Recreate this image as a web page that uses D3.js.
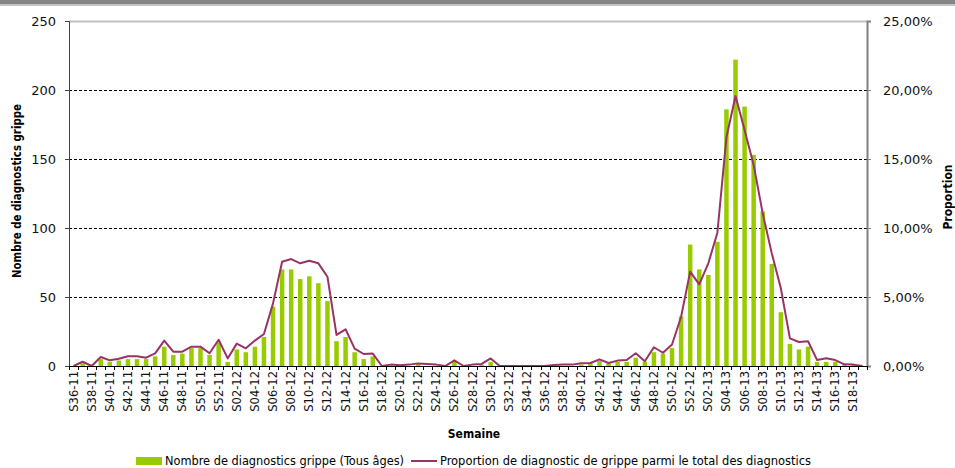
<!DOCTYPE html>
<html>
<head>
<meta charset="utf-8">
<script src="https://cdn.jsdelivr.net/npm/d3@7"></script>
<style>
    body { margin: 0; background: #fff; }
    svg { display: block; font-family: 'DejaVu Sans', sans-serif; }
</style>
</head>
<body>
<div id="chart"></div>
<script>
// semaines S36-11 ... S19-13
var weeks = [
    'S36-11','S37-11','S38-11','S39-11','S40-11','S41-11','S42-11','S43-11','S44-11','S45-11',
    'S46-11','S47-11','S48-11','S49-11','S50-11','S51-11','S52-11',
    'S01-12','S02-12','S03-12','S04-12','S05-12','S06-12','S07-12','S08-12','S09-12','S10-12',
    'S11-12','S12-12','S13-12','S14-12','S15-12','S16-12','S17-12','S18-12','S19-12','S20-12',
    'S21-12','S22-12','S23-12','S24-12','S25-12','S26-12','S27-12','S28-12','S29-12','S30-12',
    'S31-12','S32-12','S33-12','S34-12','S35-12','S36-12','S37-12','S38-12','S39-12','S40-12',
    'S41-12','S42-12','S43-12','S44-12','S45-12','S46-12','S47-12','S48-12','S49-12','S50-12',
    'S51-12','S52-12',
    'S01-13','S02-13','S03-13','S04-13','S05-13','S06-13','S07-13','S08-13','S09-13','S10-13',
    'S11-13','S12-13','S13-13','S14-13','S15-13','S16-13','S17-13','S18-13','S19-13'
]

// nombre de diagnostics grippe (tous ages)
var counts = [
    0, 2, 0, 5, 3, 4, 5, 5, 5, 7,
    14, 8, 9, 13, 13, 8, 17,
    3, 12, 10, 14, 21, 43, 70, 70, 63, 65,
    60, 47, 18, 21, 10, 5, 7, 0, 0, 0,
    0, 2, 0, 0, 0, 3, 0, 0, 1, 3,
    0, 0, 0, 0, 0, 0, 0, 0, 0, 1,
    2, 4, 2, 3, 3, 6, 3, 10, 9, 13,
    36, 88,
    70, 66, 90, 186, 222, 188, 153, 112, 74, 39,
    16, 12, 14, 3, 3, 3, 1, 1, 0
]

// proportion (%) parmi le total des diagnostics
var proportion = [
    0, 0.31, 0, 0.65, 0.41, 0.53, 0.7, 0.7, 0.6, 0.92,
    1.84, 1.04, 1.04, 1.4, 1.4, 0.92, 1.9,
    0.55, 1.62, 1.28, 1.84, 2.32, 4.54, 7.56, 7.75, 7.44, 7.63,
    7.44, 6.47, 2.25, 2.66, 1.26, 0.87, 0.9, 0, 0.1, 0.05,
    0.1, 0.19, 0.15, 0.1, 0, 0.41, 0, 0.1, 0.15, 0.55,
    0, 0, 0, 0, 0, 0, 0.08, 0.1, 0.1, 0.2,
    0.22, 0.48, 0.22, 0.39, 0.43, 0.92, 0.34, 1.36, 0.96, 1.56,
    3.57, 6.84,
    5.92, 7.44, 9.66, 16.57, 19.57, 17.1, 14.57, 11.06, 8.16, 5.63,
    2.0, 1.74, 1.79, 0.43, 0.56, 0.43, 0.12, 0.1, 0
]

var leftTicks = [0, 50, 100, 150, 200, 250]
var rightTicks = [0, 5, 10, 15, 20, 25]

var barLabel = 'Nombre de diagnostics grippe (Tous âges)'
var lineLabel = 'Proportion de diagnostic de grippe parmi le total des diagnostics'

var data = weeks.map(function(w, i) {
    return { week: w, n: counts[i], p: proportion[i] }
})

var W = 955, H = 468
var margin = { top: 21, right: 88, bottom: 102, left: 69 },
    width = W - margin.left - margin.right,
    height = H - margin.top - margin.bottom;

var svg = d3.select('#chart').append('svg')
    .attr('width', W)
    .attr('height', H)

// bandeau gris en haut
svg.append('rect').attr('x', 0).attr('y', 0).attr('width', W).attr('height', 4).attr('fill', '#858585')
svg.append('rect').attr('x', 0).attr('y', 4).attr('width', W).attr('height', 2).attr('fill', '#c4c4c4')

var g = svg.append('g').attr('transform', `translate(${margin.left},${margin.top})`)

var x = d3.scaleBand().domain(weeks).range([0, width]).paddingInner(0).paddingOuter(0)
var y = d3.scaleLinear().domain([0, 250]).range([height, 0])
var y2 = d3.scaleLinear().domain([0, 25]).range([height, 0])

// grille
g.selectAll('.grid')
    .data(leftTicks.filter(d => d > 0 && d < 250))
    .enter()
    .append('line')
    .attr('x1', 0).attr('x2', width)
    .attr('y1', d => Math.round(y(d)) + 0.5).attr('y2', d => Math.round(y(d)) + 0.5)
    .attr('stroke', '#000').attr('stroke-width', 1)
    .attr('stroke-dasharray', '3,2')

g.append('line')
    .attr('x1', 0).attr('x2', width)
    .attr('y1', y(250) + 0.5).attr('y2', y(250) + 0.5)
    .attr('stroke', '#c0c0c0').attr('stroke-width', 2)

// barres
var bw = 4.5
g.selectAll('.bar')
    .data(data)
    .enter()
    .append('rect')
    .attr('class', 'bar')
    .attr('x', d => x(d.week) + x.bandwidth() / 2 - bw / 2)
    .attr('y', d => y(d.n))
    .attr('width', bw)
    .attr('height', d => height - y(d.n))
    .attr('fill', '#99cc00')

// courbe proportion
var line = d3.line()
    .x(d => x(d.week) + x.bandwidth() / 2)
    .y(d => y2(d.p))

g.append('path')
    .datum(data)
    .attr('d', line)
    .attr('fill', 'none')
    .attr('stroke', '#993366')
    .attr('stroke-width', 2)
    .attr('stroke-linejoin', 'round')

// axe gauche
var yAxis = g.append('g')
    .call(d3.axisLeft(y).tickValues(leftTicks).tickSize(4).tickPadding(9))
yAxis.select('.domain').attr('stroke', '#404040')
yAxis.selectAll('.tick line').attr('stroke', '#404040')
yAxis.selectAll('text').attr('font-size', 13).attr('fill', '#111').attr('font-family', 'DejaVu Sans')

// axe droit
var y2Axis = g.append('g')
    .attr('transform', `translate(${width},0)`)
    .call(d3.axisRight(y2).tickValues(rightTicks).tickSize(4).tickPadding(12)
        .tickFormat(d => d3.format('.2f')(d).replace('.', ',') + '%'))
y2Axis.select('.domain').attr('stroke', '#808080').attr('stroke-width', 2)
y2Axis.selectAll('.tick line').attr('stroke', '#808080')
y2Axis.selectAll('text').attr('font-size', 13).attr('fill', '#111').attr('font-family', 'DejaVu Sans')

// axe x
var xAxis = g.append('g')
    .attr('transform', `translate(0,${height})`)
    .call(d3.axisBottom(x).tickSize(0).tickPadding(0)
        .tickFormat((d, i) => i % 2 == 0 ? d : ''))
xAxis.select('.domain').attr('stroke', '#000')
xAxis.selectAll('text')
    .attr('transform', 'rotate(-90)')
    .attr('text-anchor', 'end')
    .attr('x', -5)
    .attr('y', 0)
    .attr('dy', '0.35em')
    .attr('font-size', 11.5)
    .attr('fill', '#111')
    .attr('font-family', 'DejaVu Sans')

// petites graduations entre les semaines
g.selectAll('.xtick')
    .data(d3.range(weeks.length + 1))
    .enter()
    .append('line')
    .attr('x1', i => Math.round(i * x.step()) + 0.5)
    .attr('x2', i => Math.round(i * x.step()) + 0.5)
    .attr('y1', height).attr('y2', height + 4)
    .attr('stroke', '#000')

// titres des axes
svg.append('text')
    .attr('transform', 'translate(21,191) rotate(-90)')
    .attr('text-anchor', 'middle')
    .attr('font-size', 12)
    .attr('font-weight', 'bold')
    .attr('font-family', 'DejaVu Sans Condensed, DejaVu Sans')
    .attr('textLength', 174)
    .attr('lengthAdjust', 'spacingAndGlyphs')
    .text('Nombre de diagnostics grippe')

svg.append('text')
    .attr('transform', 'translate(952,197) rotate(-90)')
    .attr('text-anchor', 'middle')
    .attr('font-size', 12)
    .attr('font-weight', 'bold')
    .attr('font-family', 'DejaVu Sans Condensed, DejaVu Sans')
    .text('Proportion')

svg.append('text')
    .attr('x', 474).attr('y', 438)
    .attr('text-anchor', 'middle')
    .attr('font-size', 12)
    .attr('font-weight', 'bold')
    .attr('font-family', 'DejaVu Sans Condensed, DejaVu Sans')
    .text('Semaine')

// legende
var leg = svg.append('g').attr('transform', 'translate(0,461)')
leg.append('rect').attr('x', 136).attr('y', -4).attr('width', 26).attr('height', 8).attr('fill', '#99cc00')
leg.append('text').attr('x', 165).attr('y', 0).attr('dy', '0.35em')
    .attr('font-size', 12)
    .attr('font-family', 'DejaVu Sans Condensed, DejaVu Sans')
    .attr('textLength', 239).attr('lengthAdjust', 'spacingAndGlyphs')
    .text(barLabel)
leg.append('line').attr('x1', 411).attr('x2', 437).attr('y1', 0).attr('y2', 0)
    .attr('stroke', '#993366').attr('stroke-width', 2)
leg.append('text').attr('x', 440).attr('y', 0).attr('dy', '0.35em')
    .attr('font-size', 12)
    .attr('font-family', 'DejaVu Sans Condensed, DejaVu Sans')
    .attr('textLength', 371).attr('lengthAdjust', 'spacingAndGlyphs')
    .text(lineLabel)
</script>
</body>
</html>
